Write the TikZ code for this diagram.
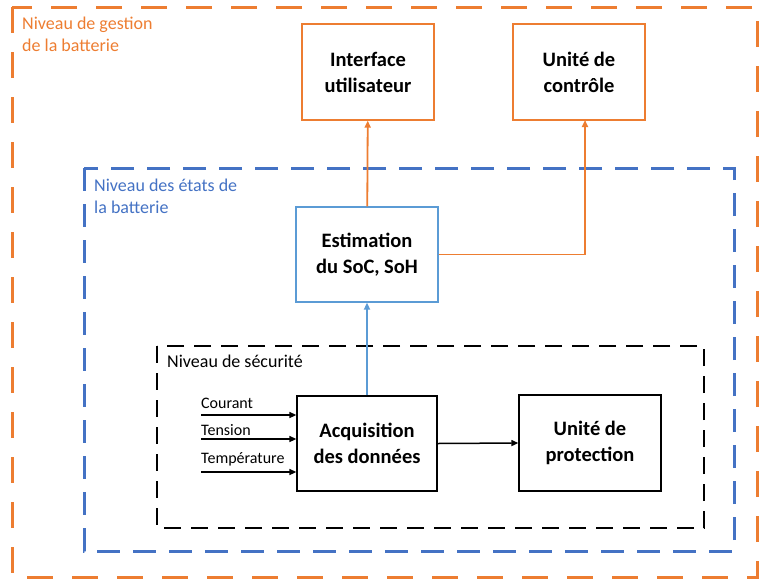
\documentclass[tikz,border=0pt]{standalone}
\usepackage{fontspec}
\setmainfont{Carlito}
\usetikzlibrary{arrows.meta,positioning}
\definecolor{orange}{RGB}{237,125,49}
\definecolor{blue}{RGB}{68,114,196}
\definecolor{lightblue}{RGB}{91,155,213}

\begin{document}
\begin{tikzpicture}[x=1pt,y=-1pt,every node/.style={align=center},
    block/.style={draw,line width=1.3pt,inner sep=0pt,font=\fontsize{20.5}{26}\selectfont\bfseries},
    level/.style={anchor=base west,align=left,inner sep=0pt,font=\fontsize{18}{21.5}\selectfont},
    sig/.style={anchor=base west,inner sep=0pt,font=\fontsize{16}{18}\selectfont},
    link/.style={-{Triangle[length=7pt,width=6pt]},line width=1.8pt}]
    \useasboundingbox (0,0) rectangle (759,581);
    % dashed levels
    \draw[orange,line width=3pt,dash pattern=on 26pt off 19pt] (12,7) rectangle (757,577);
    \draw[blue,line width=3pt,dash pattern=on 23pt off 13pt] (84,168) rectangle (734,551);
    \draw[black,line width=2.5pt,dash pattern=on 17pt off 10pt] (157,346) rectangle (704,528);
    \node[level,text=orange] (lgestion) at (22,51) {Niveau de gestion\\de la batterie};
    \node[level,text=blue] (letats) at (94,213) {Niveau des états de\\la batterie};
    \node[level] (lsecu) at (167,367) {Niveau de sécurité};
    % blocks
    \node[block,draw=orange,minimum width=132pt,minimum height=96pt] (iface) at (368,72) {Interface\\utilisateur};
    \node[block,draw=orange,minimum width=132pt,minimum height=96pt] (ctrl) at (579,72) {Unité de\\contrôle};
    \node[block,draw=lightblue,minimum width=142pt,minimum height=95pt] (estim) at (367,254.5) {Estimation\\du SoC, SoH};
    \node[block,minimum width=140pt,minimum height=95pt] (acq) at (367,443.5) {Acquisition\\des données};
    \node[block,minimum width=142pt,minimum height=96pt] (prot) at (590,443) {Unité de\\protection};
    % signals
    \coordinate (icour) at (201,415);
    \coordinate (itens) at (201,439);
    \coordinate (itemp) at (201,472);
    \node[sig] (lcour) at (201,408) {Courant};
    \node[sig] (ltens) at (201,435) {Tension};
    \node[sig] (ltemp) at (201,463) {Température};
    \draw[link,line width=1.5pt] (icour) -- (icour -| acq.west);
    \draw[link,line width=1.5pt] (itens) -- (itens -| acq.west);
    \draw[link,line width=1.5pt] (itemp) -- (itemp -| acq.west);
    % connectors
    \draw[link,lightblue] (acq) -- (estim);
    \draw[link,orange] (estim) -- (iface);
    \coordinate (cin) at (585,120);
    \draw[link,orange] (estim.east) -| (cin);
    \draw[link,line width=1.5pt] (acq.east) -- (prot.west);
\end{tikzpicture}
\end{document}
